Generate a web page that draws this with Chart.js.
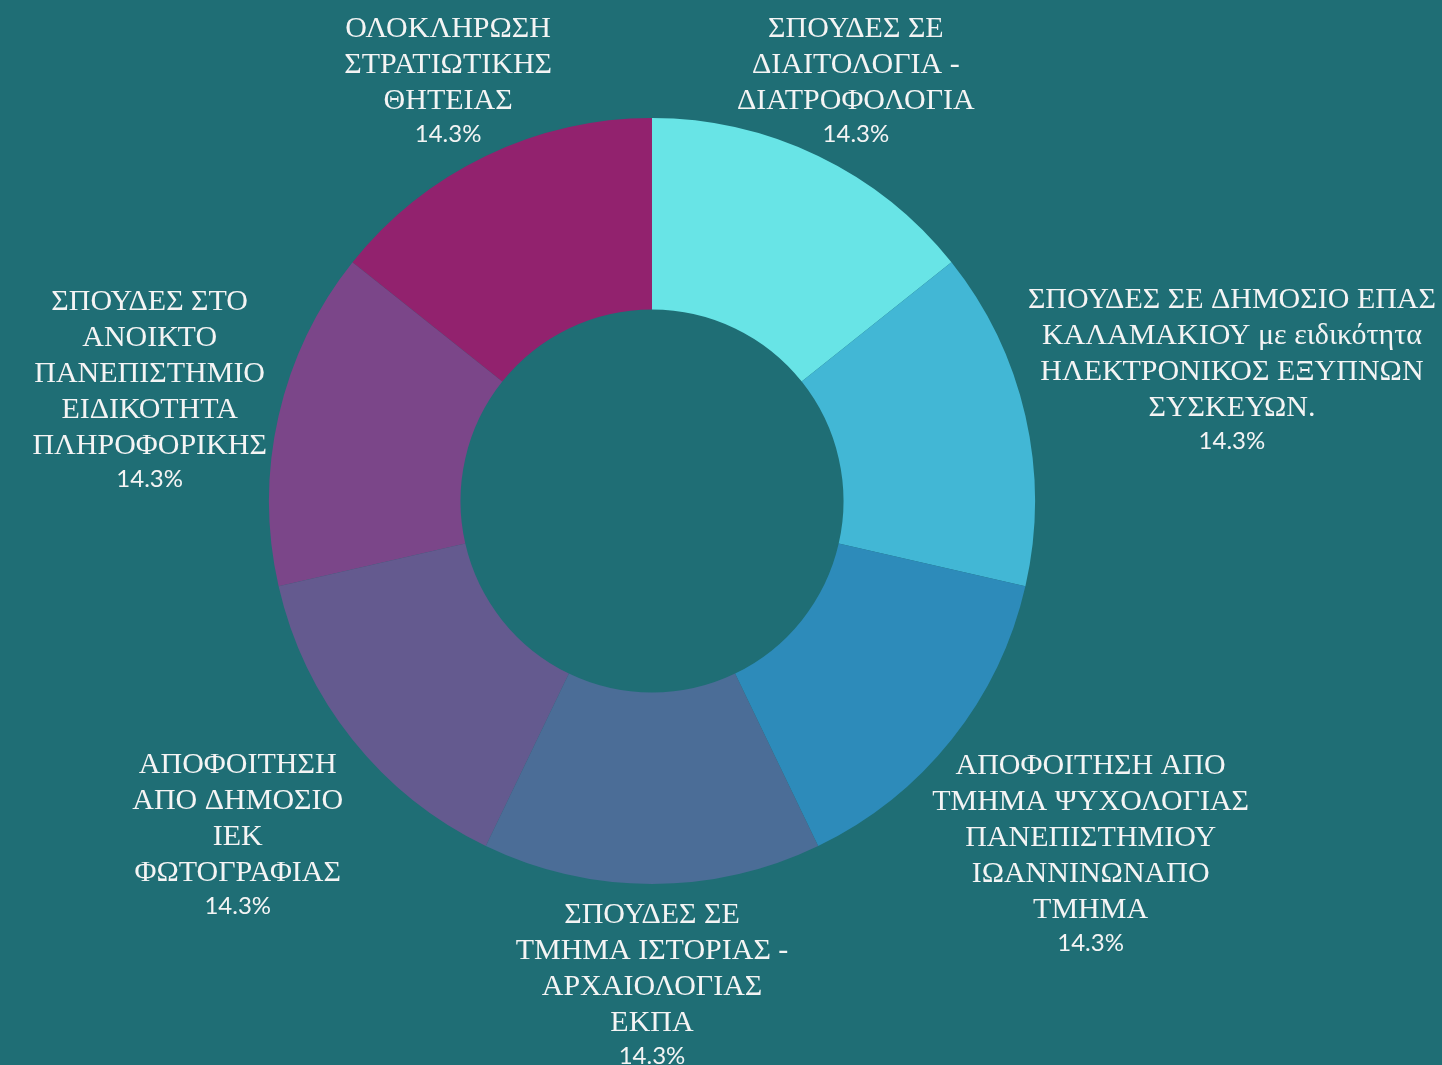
<!DOCTYPE html>
<html>
<head>
<meta charset="utf-8">
<script src="https://cdn.jsdelivr.net/npm/chart.js@4.4.1/dist/chart.umd.min.js"></script>
<style>
  html, body { margin: 0; padding: 0; background: #1f6e75; }
  #wrap { width: 1442px; height: 1065px; }
</style>
</head>
<body>
<div id="wrap"><canvas id="pie"></canvas></div>
<script>
// κατηγορίες (με αλλαγές γραμμής όπως στο πρωτότυπο)
const categories = [
  ['ΣΠΟΥΔΕΣ ΣΕ', 'ΔΙΑΙΤΟΛΟΓΙΑ -', 'ΔΙΑΤΡΟΦΟΛΟΓΙΑ'],
  ['ΣΠΟΥΔΕΣ ΣΕ ΔΗΜΟΣΙΟ ΕΠΑΣ', 'ΚΑΛΑΜΑΚΙΟΥ με ειδικότητα', 'ΗΛΕΚΤΡΟΝΙΚΟΣ ΕΞΥΠΝΩΝ', 'ΣΥΣΚΕΥΩΝ.'],
  ['ΑΠΟΦΟΙΤΗΣΗ ΑΠΟ', 'ΤΜΗΜΑ ΨΥΧΟΛΟΓΙΑΣ', 'ΠΑΝΕΠΙΣΤΗΜΙΟΥ', 'ΙΩΑΝΝΙΝΩΝΑΠΟ', 'ΤΜΗΜΑ'],
  ['ΣΠΟΥΔΕΣ ΣΕ', 'ΤΜΗΜΑ ΙΣΤΟΡΙΑΣ -', 'ΑΡΧΑΙΟΛΟΓΙΑΣ', 'ΕΚΠΑ'],
  ['ΑΠΟΦΟΙΤΗΣΗ', 'ΑΠΟ ΔΗΜΟΣΙΟ', 'ΙΕΚ', 'ΦΩΤΟΓΡΑΦΙΑΣ'],
  ['ΣΠΟΥΔΕΣ ΣΤΟ', 'ΑΝΟΙΚΤΟ', 'ΠΑΝΕΠΙΣΤΗΜΙΟ', 'ΕΙΔΙΚΟΤΗΤΑ', 'ΠΛΗΡΟΦΟΡΙΚΗΣ'],
  ['ΟΛΟΚΛΗΡΩΣΗ', 'ΣΤΡΑΤΙΩΤΙΚΗΣ', 'ΘΗΤΕΙΑΣ']
];
const values = [1, 1, 1, 1, 1, 1, 1];
const sliceColors = ['#68e4e6', '#42b7d5', '#2d8bba', '#4b6d97', '#645a8f', '#7b4689', '#92226e'];

const nameFont = '30px "Liberation Serif", "DejaVu Serif", serif';
const pctFont = '24px Lato, "Open Sans", sans-serif';
const lineH = 36;   // απόσταση γραμμών
const pctGap = 33;  // απόσταση ποσοστού από την τελευταία γραμμή
const labelPad = 12;
const edgeMargin = 6;

// ετικέτες έξω από τον δακτύλιο, πάνω στη διχοτόμο κάθε κομματιού
const outsideLabels = {
  id: 'outsideLabels',
  afterDraw(chart) {
    const ctx = chart.ctx;
    const meta = chart.getDatasetMeta(0);
    const total = values.reduce((a, b) => a + b, 0);
    ctx.save();
    ctx.fillStyle = '#f4f4f4';
    ctx.textAlign = 'center';
    ctx.textBaseline = 'middle';
    meta.data.forEach((arc, i) => {
      const p = arc.getProps(['x', 'y', 'startAngle', 'endAngle', 'outerRadius'], true);
      const mid = (p.startAngle + p.endAngle) / 2;
      const dx = Math.cos(mid), dy = Math.sin(mid);
      const lines = categories[i];
      const pct = (values[i] / total * 100).toFixed(1) + '%';

      ctx.font = nameFont;
      let w = 0;
      lines.forEach(l => { w = Math.max(w, ctx.measureText(l).width); });
      const h = (lines.length - 1) * lineH + pctGap + 30;
      const a = w / 2, b = h / 2;
      const reach = Math.min(Math.abs(dx) > 1e-6 ? a / Math.abs(dx) : Infinity,
                             Math.abs(dy) > 1e-6 ? b / Math.abs(dy) : Infinity);
      const dist = p.outerRadius + labelPad + reach;
      let cx = p.x + dx * dist;
      // μένει μέσα στον καμβά
      cx = Math.min(cx, chart.width - edgeMargin - a);
      cx = Math.max(cx, edgeMargin + a);
      const top = p.y + dy * dist - b + 19;

      lines.forEach((l, k) => ctx.fillText(l, cx, top + k * lineH));
      ctx.font = pctFont;
      ctx.fillText(pct, cx, top + (lines.length - 1) * lineH + pctGap);
    });
    ctx.restore();
  }
};

new Chart(document.getElementById('pie'), {
  type: 'doughnut',
  data: {
    labels: categories,
    datasets: [{
      data: values,
      backgroundColor: sliceColors,
      borderWidth: 0
    }]
  },
  options: {
    responsive: true,
    maintainAspectRatio: false,
    animation: false,
    cutout: '50%',
    layout: { padding: { top: 118, bottom: 181, left: 269, right: 407 } },
    plugins: {
      legend: { display: false },
      tooltip: { enabled: false }
    }
  },
  plugins: [outsideLabels]
});
</script>
</body>
</html>
